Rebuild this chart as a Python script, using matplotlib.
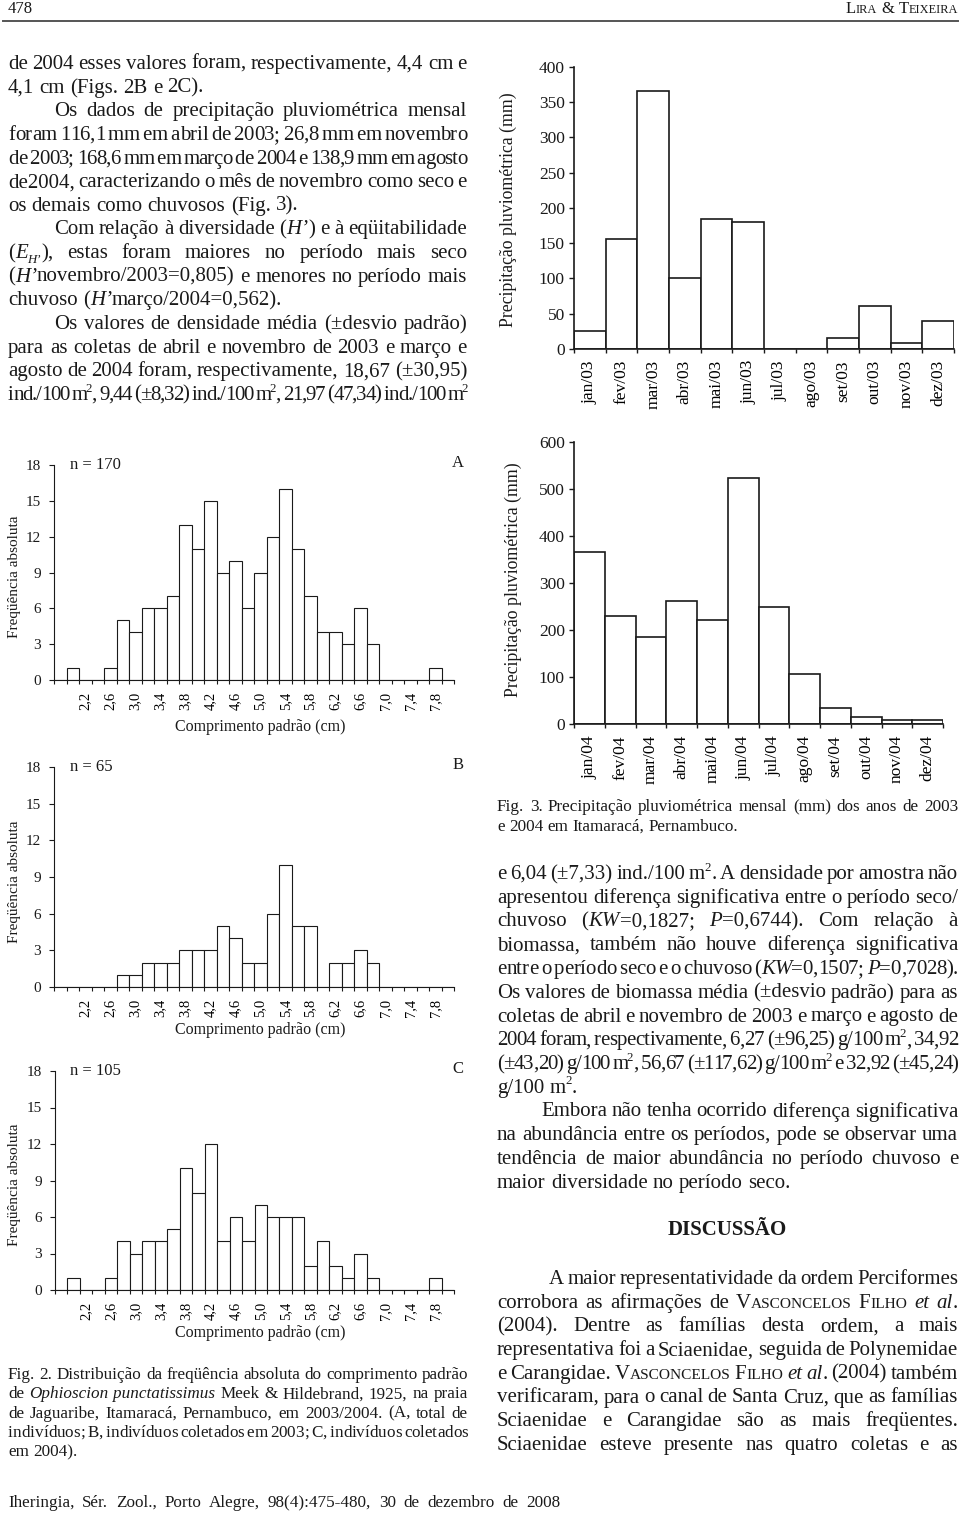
import re
import numpy as np
import matplotlib
matplotlib.use('Agg')
import matplotlib.pyplot as plt
from matplotlib.lines import Line2D

W, H = 960, 1515
SERIF = 'Liberation Serif'
INK = '#1a1a1a'
PX = 100 / 72

# ---------------- data ----------------
len_bins = ['1,8', '2,0', '2,2', '2,4', '2,6', '2,8', '3,0', '3,2', '3,4', '3,6',
            '3,8', '4,0', '4,2', '4,4', '4,6', '4,8', '5,0', '5,2', '5,4', '5,6',
            '5,8', '6,0', '6,2', '6,4', '6,6', '6,8', '7,0', '7,2', '7,4', '7,6',
            '7,8', '8,0']
freq_A = [0, 1, 0, 0, 1, 5, 4, 6, 6, 7, 13, 11, 15, 9, 10, 6, 9, 12, 16, 11,
          7, 4, 4, 3, 6, 3, 0, 0, 0, 0, 1, 0]
freq_B = [0, 0, 0, 0, 0, 1, 1, 2, 2, 2, 3, 3, 3, 5, 4, 2, 2, 6, 10, 5,
          5, 0, 2, 2, 3, 2, 0, 0, 0, 0, 0, 0]
freq_C = [0, 1, 0, 0, 1, 4, 3, 4, 4, 5, 10, 8, 12, 4, 6, 4, 7, 6, 6, 6,
          2, 4, 2, 1, 3, 1, 0, 0, 0, 0, 1, 0]
n_labels = ['n = 170', 'n = 65', 'n = 105']
panel_labels = ['A', 'B', 'C']

months_03 = ['jan/03', 'fev/03', 'mar/03', 'abr/03', 'mai/03', 'jun/03',
             'jul/03', 'ago/03', 'set/03', 'out/03', 'nov/03', 'dez/03']
rain_03 = [26, 156, 365, 101, 184, 180, 0, 0, 16, 61, 8, 40]
months_04 = ['jan/04', 'fev/04', 'mar/04', 'abr/04', 'mai/04', 'jun/04',
             'jul/04', 'ago/04', 'set/04', 'out/04', 'nov/04', 'dez/04']
rain_04 = [367, 231, 186, 263, 222, 524, 249, 106, 35, 14, 8, 8]

# ---------------- figure ----------------
plt.rcParams['font.family'] = [SERIF, 'DejaVu Serif']
plt.rcParams['text.color'] = INK
fig = plt.figure(figsize=(W / 100, H / 100), dpi=100)
fig.patch.set_facecolor('white')
renderer = fig.canvas.get_renderer()


def X(x):
    return x / W


def Y(y):
    return 1 - y / H


def add_ax(l, r, b, t):
    return fig.add_axes([l / W, 1 - b / H, (r - l) / W, (b - t) / H])


_cache = {}


def measure(txt, size, italic=False, bold=False):
    if txt == '':
        return 0.0
    key = (txt, round(size, 3), italic, bold)
    if key not in _cache:
        t = fig.text(0, 0, txt, fontsize=size, style='italic' if italic else 'normal',
                     weight='bold' if bold else 'normal')
        _cache[key] = t.get_window_extent(renderer).width
        t.remove()
    return _cache[key]


def space_w(size):
    return measure('a a', size) - measure('aa', size)


TAG = re.compile(r'<(/?)(i|sup|sub|sc|is|b)>')


def parse(line):
    runs = []
    pos = 0
    style = 'n'
    for m in TAG.finditer(line):
        if m.start() > pos:
            runs.append((style, line[pos:m.start()]))
        style = 'n' if m.group(1) else m.group(2)
        pos = m.end()
    if pos < len(line):
        runs.append((style, line[pos:]))
    words = [[]]
    for st, txt in runs:
        parts = txt.split(' ')
        for k, p in enumerate(parts):
            if k > 0:
                words.append([])
            if p:
                words[-1].append((st, p))
    return [w for w in words if w]


def expand(word, s):
    out = []  # (txt, size, italic, bold, dy)
    for st, txt in word:
        if st == 'n':
            out.append((txt, s, False, False, 0))
        elif st == 'i':
            out.append((txt, s, True, False, 0))
        elif st == 'b':
            out.append((txt, s, False, True, 0))
        elif st == 'sup':
            out.append((txt, s * 0.62, False, False, -0.40 * s * PX))
        elif st == 'sub':
            out.append((txt, s * 0.62, False, False, 0.22 * s * PX))
        elif st == 'is':
            out.append((txt, s * 0.62, True, False, 0.22 * s * PX))
        elif st == 'sc':
            buf = ''
            cur = None
            for ch in txt:
                big = not ch.islower()
                if cur is None or big == cur:
                    buf += ch
                else:
                    out.append((buf if cur else buf.upper(), s if cur else s * 0.74, False, False, 0))
                    buf = ch
                cur = big
            if buf:
                out.append((buf if cur else buf.upper(), s if cur else s * 0.74, False, False, 0))
    return out


def draw_line(line, x0, x1, y, size, justify=True, align='left'):
    words = parse(line)
    ws = [sum(measure(p[0], p[1], p[2], p[3]) for p in expand(w, size)) for w in words]
    sp = space_w(size)
    scale = 1.0
    if len(words) > 1 and justify:
        gap = (x1 - x0 - sum(ws)) / (len(words) - 1)
        if gap < 0.6 * sp:
            gap = 0.6 * sp
            scale = (x1 - x0 - gap * (len(words) - 1)) / sum(ws)
    else:
        gap = sp
    total = sum(ws) * scale + gap * (len(words) - 1)
    x = x0
    if align == 'right':
        x = x1 - total
    elif align == 'center':
        x = (x0 + x1) / 2 - total / 2
    for w in words:
        for (txt, ps, it, bd, dy) in expand(w, size):
            kw = dict(fontsize=ps, style='italic' if it else 'normal',
                      weight='bold' if bd else 'normal', ha='left', va='baseline', color=INK)
            if scale == 1.0:
                fig.text(X(x), Y(y + dy), txt, **kw)
            else:
                for k, ch in enumerate(txt):
                    cx = x + scale * measure(txt[:k], ps, it, bd)
                    fig.text(X(cx), Y(y + dy), ch, **kw)
            x += scale * measure(txt, ps, it, bd)
        x += gap


def draw_block(lines, x0, x1, y0, dy, size, indent=46):
    for k, (txt, just, ind) in enumerate(lines):
        draw_line(txt, x0 + (indent if ind else 0), x1, y0 + k * dy, size, justify=just)


BODY = 15.0
CAP = 12.3

# ---------------- header ----------------
draw_line('478', 8, 200, 13, 12, justify=False)
draw_line('<sc>Lira</sc> & <sc>Teixeira</sc>', 600, 958, 13, 12, justify=False, align='right')
fig.add_artist(Line2D([X(3), X(958)], [Y(20.5), Y(20.5)], lw=1.4, color='#555555'))

# ---------------- left column text ----------------
left_lines = [
    ('de 2004 esses valores foram, respectivamente, 4,4 cm e', True, False),
    ('4,1 cm (Figs. 2B e 2C).', False, False),
    ('Os dados de precipitação pluviométrica mensal', True, True),
    ('foram 116,1 mm em abril de 2003; 26,8 mm em novembro', True, False),
    ('de 2003; 168,6 mm em março de 2004 e 138,9 mm em agosto', True, False),
    ('de2004, caracterizando o mês de novembro como seco e', True, False),
    ('os demais como chuvosos (Fig. 3).', False, False),
    ('Com relação à diversidade (<i>H’</i>) e à eqüitabilidade', True, True),
    ('(<i>E</i><is>H’</is>), estas foram maiores no período mais seco', True, False),
    ('(<i>H’</i>novembro/2003=0,805) e menores no período mais', True, False),
    ('chuvoso (<i>H’</i>março/2004=0,562).', False, False),
    ('Os valores de densidade média (±desvio padrão)', True, True),
    ('para as coletas de abril e novembro de 2003 e março e', True, False),
    ('agosto de 2004 foram, respectivamente, 18,67 (±30,95)', True, False),
    ('ind./100 m<sup>2</sup>, 9,44 (±8,32) ind./100 m<sup>2</sup>, 21,97 (47,34) ind./100 m<sup>2</sup>', True, False),
]
draw_block(left_lines, 8, 467, 69, 23.64, BODY)

# ---------------- right column text ----------------
right_lines = [
    ('e 6,04 (±7,33) ind./100 m<sup>2</sup>. A densidade por amostra não', True, False),
    ('apresentou diferença significativa entre o período seco/', True, False),
    ('chuvoso (<i>KW</i>=0,1827; <i>P</i>=0,6744). Com relação à', True, False),
    ('biomassa, também não houve diferença significativa', True, False),
    ('entre o período seco e o chuvoso (<i>KW</i>=0,1507; <i>P</i>=0,7028).', True, False),
    ('Os valores de biomassa média (±desvio padrão) para as', True, False),
    ('coletas de abril e novembro de 2003 e março e agosto de', True, False),
    ('2004 foram, respectivamente, 6,27 (±96,25) g/100 m<sup>2</sup>, 34,92', True, False),
    ('(±43,20) g/100 m<sup>2</sup>, 56,67 (±117,62) g/100 m<sup>2</sup> e 32,92 (±45,24)', True, False),
    ('g/100 m<sup>2</sup>.', False, False),
    ('Embora não tenha ocorrido diferença significativa', True, True),
    ('na abundância entre os períodos, pode se observar uma', True, False),
    ('tendência de maior abundância no período chuvoso e', True, False),
    ('maior diversidade no período seco.', False, False),
]
draw_block(right_lines, 497, 958, 879, 23.75, BODY, indent=44)

draw_line('<b>DISCUSSÃO</b>', 497, 958, 1235, 15, justify=False, align='center')

disc_lines = [
    ('A maior representatividade da ordem Perciformes', True, True),
    ('corrobora as afirmações de <sc>Vasconcelos</sc> <sc>Filho</sc> <i>et al</i>.', True, False),
    ('(2004). Dentre as famílias desta ordem, a mais', True, False),
    ('representativa foi a Sciaenidae, seguida de Polynemidae', True, False),
    ('e Carangidae. <sc>Vasconcelos</sc> <sc>Filho</sc> <i>et al</i>. (2004) também', True, False),
    ('verificaram, para o canal de Santa Cruz, que as famílias', True, False),
    ('Sciaenidae e Carangidae são as mais freqüentes.', True, False),
    ('Sciaenidae esteve presente nas quatro coletas e as', True, False),
]
draw_block(disc_lines, 497, 958, 1284, 23.7, BODY, indent=52)

# ---------------- captions & footer ----------------
cap3 = [
    ('Fig. 3. Precipitação pluviométrica mensal (mm) dos anos de 2003', True, False),
    ('e 2004 em Itamaracá, Pernambuco.', False, False),
]
draw_block(cap3, 497, 958, 811, 20, CAP)

cap2 = [
    ('Fig. 2. Distribuição da freqüência absoluta do comprimento padrão', True, False),
    ('de <i>Ophioscion punctatissimus</i> Meek & Hildebrand, 1925, na praia', True, False),
    ('de Jaguaribe, Itamaracá, Pernambuco, em 2003/2004. (A, total de', True, False),
    ('indivíduos; B, indivíduos coletados em 2003; C, indivíduos coletados', True, False),
    ('em 2004).', False, False),
]
draw_block(cap2, 8, 468, 1379, 19.3, CAP)

draw_line('Iheringia, Sér. Zool., Porto Alegre, 98(4):475-480, 30 de dezembro de 2008',
          8, 560, 1507, CAP, justify=True)


# ---------------- histograms ----------------
def hist_panel(l, r, b, t, freqs, nlab, plab, ylab_y, xlab_y):
    ax = add_ax(l, r, b, t)
    xs = np.arange(len(len_bins))
    ax.bar(xs, freqs, width=1.0, color='white', edgecolor=INK, linewidth=0.8)
    ax.set_xlim(-0.5, len(len_bins) - 0.5)
    ax.set_ylim(0, 18)
    ax.set_yticks(range(0, 19, 3))
    ax.set_xticks(np.arange(-0.5, len(len_bins), 1.0))
    ax.set_xticklabels([])
    idx = list(range(2, len(len_bins), 2))
    ax.set_xticks(idx, minor=True)
    ax.set_xticklabels([len_bins[i] for i in idx], minor=True, rotation=90, fontsize=10.5)
    ax.tick_params(axis='x', which='minor', length=0, pad=8.5)
    ax.tick_params(axis='x', which='major', length=3, width=0.8, direction='out', colors=INK)
    ax.tick_params(axis='y', length=3.6, width=0.8, direction='out', pad=6, labelsize=11, colors=INK)
    for s in ['top', 'right']:
        ax.spines[s].set_visible(False)
    for s in ['left', 'bottom']:
        ax.spines[s].set_linewidth(0.8)
        ax.spines[s].set_color(INK)
    ax.patch.set_alpha(0)
    fig.text(X(70), Y(t), nlab, fontsize=12, ha='left', va='center')
    fig.text(X(458), Y(t - 2), plab, fontsize=12, ha='center', va='center')
    fig.text(X(260), Y(xlab_y), 'Comprimento padrão (cm)', fontsize=11.5, ha='center', va='center')
    fig.text(X(15), Y(ylab_y), 'Freqüência absoluta', fontsize=11, ha='center', va='center',
             rotation=90)


hist_panel(54, 454, 680, 465, freq_A, n_labels[0], panel_labels[0], 577, 727)
hist_panel(54, 454, 987, 767, freq_B, n_labels[1], panel_labels[1], 882, 1030)
hist_panel(55, 454, 1290, 1071, freq_C, n_labels[2], panel_labels[2], 1185, 1333)


# ---------------- rainfall ----------------
def rain_panel(l, r, b, t, months, vals, ymax, ystep, ylab_x, ylab_y):
    ax = add_ax(l, r, b, t)
    xs = np.arange(len(months))
    ax.bar(xs, vals, width=1.0, color='white', edgecolor=INK, linewidth=1.2)
    ax.set_xlim(-0.5, len(months) - 0.5)
    ax.set_ylim(0, ymax)
    ax.set_yticks(np.arange(0, ymax + 1, ystep))
    ax.set_xticks(np.arange(-0.5, len(months), 1.0))
    ax.set_xticklabels([])
    ax.set_xticks(xs, minor=True)
    ax.set_xticklabels(months, minor=True, rotation=90, fontsize=12.5)
    ax.tick_params(axis='x', which='minor', length=0, pad=8)
    ax.tick_params(axis='x', which='major', length=3, width=1.0, direction='out', colors=INK)
    ax.tick_params(axis='y', length=3.6, width=1.0, direction='out', pad=3, labelsize=12.5, colors=INK)
    for s in ['top', 'right']:
        ax.spines[s].set_visible(False)
    for s in ['left', 'bottom']:
        ax.spines[s].set_linewidth(1.2)
        ax.spines[s].set_color(INK)
    ax.patch.set_alpha(0)
    fig.text(X(ylab_x), Y(ylab_y), 'Precipitação pluviométrica (mm)', fontsize=12.8,
             ha='center', va='center', rotation=90)


rain_panel(574, 954, 349, 66.7, months_03, rain_03, 400, 50, 508, 210)
rain_panel(574, 943, 724, 442.3, months_04, rain_04, 600, 100, 513, 580)

fig.savefig('out.png', dpi=100, facecolor='white')
